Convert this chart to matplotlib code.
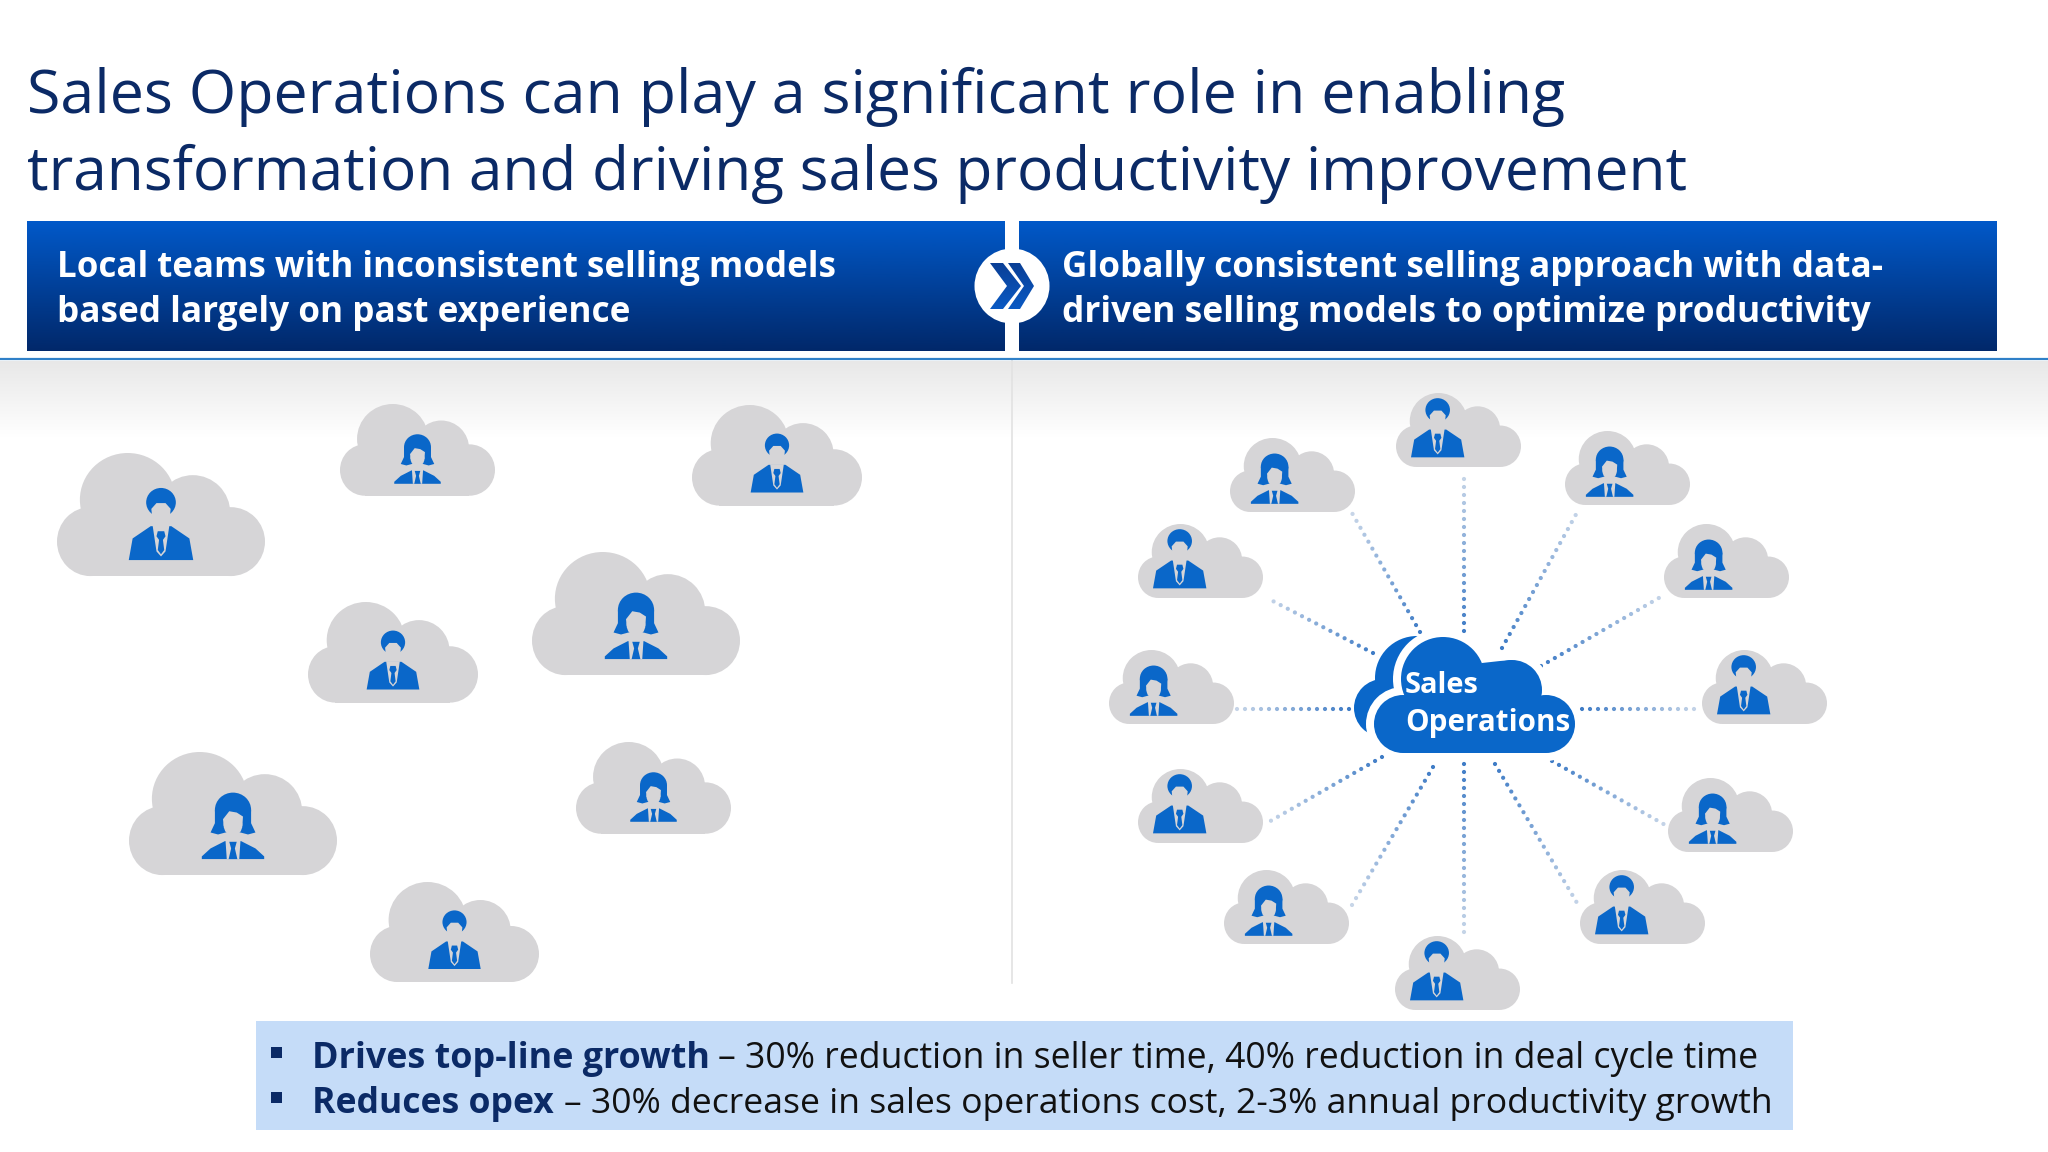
import numpy as np
import matplotlib
matplotlib.use('Agg')
import matplotlib.pyplot as plt
from matplotlib.patches import Ellipse, Polygon, Rectangle, Circle

BLUE = '#0a67c9'
GREY = '#d6d5d7'
NAVY = '#0b2a66'
FONT = 'Open Sans'

title_lines = ['Sales Operations can play a significant role in enabling',
               'transformation and driving sales productivity improvement']
left_head = ['Local teams with inconsistent selling models',
             'based largely on past experience']
right_head = ['Globally consistent selling approach with data-',
              'driven selling models to optimize productivity']
bold_notes = ['Drives top-line growth', 'Reduces opex']
plain_notes = ['– 30% reduction in seller time, 40% reduction in deal cycle time',
               '– 30% decrease in sales operations cost, 2-3% annual productivity growth']

# clouds on the left, x / y of top left corner and width, m = man, w = woman
left_x = [57, 340, 692, 532, 308, 129, 576, 370]
left_y = [453, 404, 405, 552, 602, 752, 742, 882]
left_w = [208, 155, 170, 208, 170, 208, 155, 169]
left_kind = ['m', 'w', 'm', 'w', 'm', 'w', 'w', 'm']

# ring of clouds on the right
ring_x = [1396, 1230, 1565, 1138, 1664, 1109, 1702, 1138, 1668, 1224, 1580, 1395]
ring_y = [393, 438, 431, 524, 524, 650, 650, 769, 778, 870, 870, 936]
ring_kind = ['m', 'w', 'w', 'm', 'w', 'w', 'm', 'm', 'w', 'w', 'm', 'm']

# dotted spokes, inner end then outer end
spoke_x0 = [1464, 1420, 1502, 1373, 1541, 1349, 1582, 1382, 1552, 1433, 1495, 1464]
spoke_y0 = [631, 632, 648, 653, 666, 709, 709, 757, 761, 767, 764, 764]
spoke_x1 = [1464, 1352, 1579, 1267, 1664, 1236, 1699, 1267, 1667, 1352, 1580, 1464]
spoke_y1 = [475, 513, 509, 598, 595, 709, 709, 823, 826, 905, 908, 936]

cloud_blobs = [(.34, .38, .23, .38), (.653, .486, .18, .306),
               (.835, .72, .165, .28), (.16, .72, .16, .28)]

fig = plt.figure(figsize=(20.48, 11.52), dpi=100)
ax = fig.add_axes([0, 0, 1, 1])
renderer = fig.canvas.get_renderer()


def fit_text(x, y, s, right, color, weight='normal', z=10):
    t = ax.text(x, y, s, fontsize=30, color=color, weight=weight, family=FONT,
                va='baseline', ha='left', zorder=z)
    w = t.get_window_extent(renderer).width
    t.set_fontsize(30 * (right - x) / w)
    return t


def gradient(x0, x1, y0, y1, top, bottom, z=1):
    top = np.array(matplotlib.colors.to_rgb(top))
    bottom = np.array(matplotlib.colors.to_rgb(bottom))
    f = np.linspace(0, 1, 256)[:, None, None]
    img = top[None, None, :] * (1 - f) + bottom[None, None, :] * f
    return ax.imshow(img, extent=[x0, x1, y1, y0], aspect='auto', zorder=z)


def draw_cloud(x, y, w, color=GREY, z=3):
    h = w / 1.69
    for u, v, ru, rv in cloud_blobs:
        ax.add_patch(Ellipse((x + u * w, y + v * h), 2 * ru * w, 2 * rv * h,
                             fc=color, ec='none', zorder=z))
    ax.add_patch(Rectangle((x + .16 * w, y + .6 * h), .675 * w, .4 * h,
                           fc=color, ec='none', zorder=z))


def draw_man(x, y, w, h, z=4):
    def pts(p):
        return [(x + a * w, y + b * h) for a, b in p]
    ax.add_patch(Ellipse((x + .5 * w, y + .2 * h), .46 * w, .4 * h, fc=BLUE, ec='none', zorder=z))
    ax.add_patch(Polygon(pts([(.35, .29), (.43, .21), (.57, .21), (.65, .29), (.63, .46),
                              (.55, .56), (.45, .56), (.37, .46)]),
                         fc=GREY, ec='none', zorder=z))
    ax.add_patch(Polygon(pts([(0, 1), (.06, .7), (.34, .53), (.66, .53), (.94, .7), (1, 1)]),
                         fc=BLUE, ec='none', zorder=z))
    ax.add_patch(Polygon(pts([(.37, .52), (.63, .52), (.57, .88), (.5, .95), (.43, .88)]),
                         fc=GREY, ec='none', zorder=z))
    ax.add_patch(Polygon(pts([(.45, .6), (.55, .6), (.57, .67), (.53, .72), (.55, .86),
                              (.5, .92), (.45, .86), (.47, .72), (.43, .67)]),
                         fc=BLUE, ec='none', zorder=z))


def draw_woman(x, y, w, h, z=4):
    def pts(p):
        return [(x + a * w, y + b * h) for a, b in p]
    ax.add_patch(Ellipse((x + .5 * w, y + .26 * h), .58 * w, .52 * h, fc=BLUE, ec='none', zorder=z))
    ax.add_patch(Polygon(pts([(.21, .26), (.79, .26), (.79, .46), (.86, .6), (.74, .63), (.62, .6),
                              (.38, .6), (.26, .63), (.14, .6), (.21, .46)]),
                         fc=BLUE, ec='none', zorder=z))
    ax.add_patch(Polygon(pts([(.34, .4), (.44, .28), (.56, .3), (.66, .36), (.65, .5), (.35, .5)]),
                         fc=GREY, ec='none', zorder=z))
    ax.add_patch(Ellipse((x + .5 * w, y + .49 * h), .3 * w, .32 * h, fc=GREY, ec='none', zorder=z))
    ax.add_patch(Polygon(pts([(0, 1), (0, .96), (.14, .84), (.37, .73), (.63, .73), (.86, .84),
                              (1, .96), (1, 1)]), fc=BLUE, ec='none', zorder=z))
    ax.add_patch(Polygon(pts([(.38, .72), (.62, .72), (.6, 1), (.4, 1)]), fc=GREY, ec='none', zorder=z))
    ax.add_patch(Polygon(pts([(.44, .74), (.56, .74), (.53, .84), (.57, 1), (.43, 1), (.47, .84)]),
                         fc=BLUE, ec='none', zorder=z))


# background
gradient(0, 2048, 361, 437, '#e8e8e8', '#ffffff', z=0)

# title
fit_text(27, 113, title_lines[0], 1562, NAVY)
fit_text(27, 190, title_lines[1], 1688, NAVY)

# header bars
gradient(27, 1005, 221, 351, '#0159c9', '#01286a')
gradient(1019, 1997, 221, 351, '#0159c9', '#01286a')
ax.plot([0, 2048], [359, 359], color='#2f80c8', lw=1.6, zorder=2)
ax.plot([1012, 1012], [361, 983], color='#e2e2e2', lw=1.2, zorder=1)
ax.add_patch(Circle((1012, 286), 37.5, fc='white', ec='none', zorder=3))

# chevrons in the circle
chev_a = Polygon([(990, 263), (1003, 263), (1021, 286), (1003, 309), (990, 309), (1007, 286)],
                 fc='none', ec='none')
chev_b = Polygon([(1008, 263), (1020, 263), (1034, 286), (1020, 309), (1008, 309), (1024, 286)],
                 fc='none', ec='none')
for chev in [chev_a, chev_b]:
    ax.add_patch(chev)
    img = gradient(985, 1038, 263, 309, '#0a3f96', '#0a5ac4', z=4)
    img.set_clip_path(chev)

fit_text(57, 277, left_head[0], 835, 'white', 'bold')
fit_text(57, 322, left_head[1], 630, 'white', 'bold')
fit_text(1062, 277, right_head[0], 1883, 'white', 'bold')
fit_text(1062, 322, right_head[1], 1873, 'white', 'bold')

# left clouds
for x, y, w, k in zip(left_x, left_y, left_w, left_kind):
    h = w / 1.69
    draw_cloud(x, y, w)
    if k == 'm':
        draw_man(x + .345 * w, y + .284 * h, .31 * w, .586 * h)
    else:
        draw_woman(x + .35 * w, y + .33 * h, .30 * w, .54 * h)

# ring clouds
for x, y, k in zip(ring_x, ring_y, ring_kind):
    w = 125
    h = w / 1.69
    draw_cloud(x, y, w)
    if k == 'm':
        draw_man(x + .12 * w, y + .07 * h, .427 * w, .8 * h)
    else:
        draw_woman(x + .167 * w, y + .21 * h, .38 * w, .68 * h)

# spokes
inner = np.array(matplotlib.colors.to_rgb('#3f7cc6'))
outer = np.array(matplotlib.colors.to_rgb('#c8d6e8'))
for x0, y0, x1, y1 in zip(spoke_x0, spoke_y0, spoke_x1, spoke_y1):
    length = np.hypot(x1 - x0, y1 - y0)
    t = np.arange(0, length, 8) / length
    cols = inner[None, :] * (1 - t[:, None]) + outer[None, :] * t[:, None]
    ax.scatter(x0 + t * (x1 - x0), y0 + t * (y1 - y0), s=9, c=cols, linewidths=0, zorder=2)

# centre cloud, circles
main_cloud = [(1443, 679, 42), (1512, 690, 30), (1546, 724, 29), (1403, 724, 29)]
back_cloud = [(1417, 678, 42), (1383, 708, 29)]
notch = [(1482, 663), (1500, 661), (1512, 660), (1512, 705), (1465, 705)]
for cx, cy, r in back_cloud:
    ax.add_patch(Circle((cx, cy), r, fc=BLUE, ec='none', zorder=5))
for cx, cy, r in main_cloud:
    ax.add_patch(Circle((cx, cy), r + 8, fc='white', ec='none', zorder=6))
ax.add_patch(Rectangle((1403, 700), 143, 61, fc='white', ec='none', zorder=6))
for cx, cy, r in main_cloud:
    ax.add_patch(Circle((cx, cy), r, fc=BLUE, ec='none', zorder=7))
ax.add_patch(Rectangle((1403, 724), 143, 29, fc=BLUE, ec='none', zorder=7))
ax.add_patch(Rectangle((1412, 700), 124, 30, fc=BLUE, ec='none', zorder=7))
ax.add_patch(Polygon(notch, fc=BLUE, ec='none', zorder=7))
fit_text(1405, 693, 'Sales', 1479, 'white', 'bold', z=8)
fit_text(1405, 731, 'Operations', 1570, 'white', 'bold', z=8)

# bottom box
ax.add_patch(Rectangle((256, 1021), 1537, 109, fc='#c5dcf8', ec='none', zorder=1))
for yb in [1052, 1097]:
    ax.add_patch(Rectangle((271, yb - 5.5), 11, 11, fc=NAVY, ec='none', zorder=2))
fit_text(312, 1068, bold_notes[0], 710, NAVY, 'bold')
fit_text(718, 1068, plain_notes[0], 1761, '#111111')
fit_text(312, 1113, bold_notes[1], 554, NAVY, 'bold')
fit_text(564, 1113, plain_notes[1], 1770, '#111111')

ax.set_xlim(0, 2048)
ax.set_ylim(1152, 0)
ax.axis('off')
fig.savefig('out.png', dpi=100, facecolor='white')
plt.close()
